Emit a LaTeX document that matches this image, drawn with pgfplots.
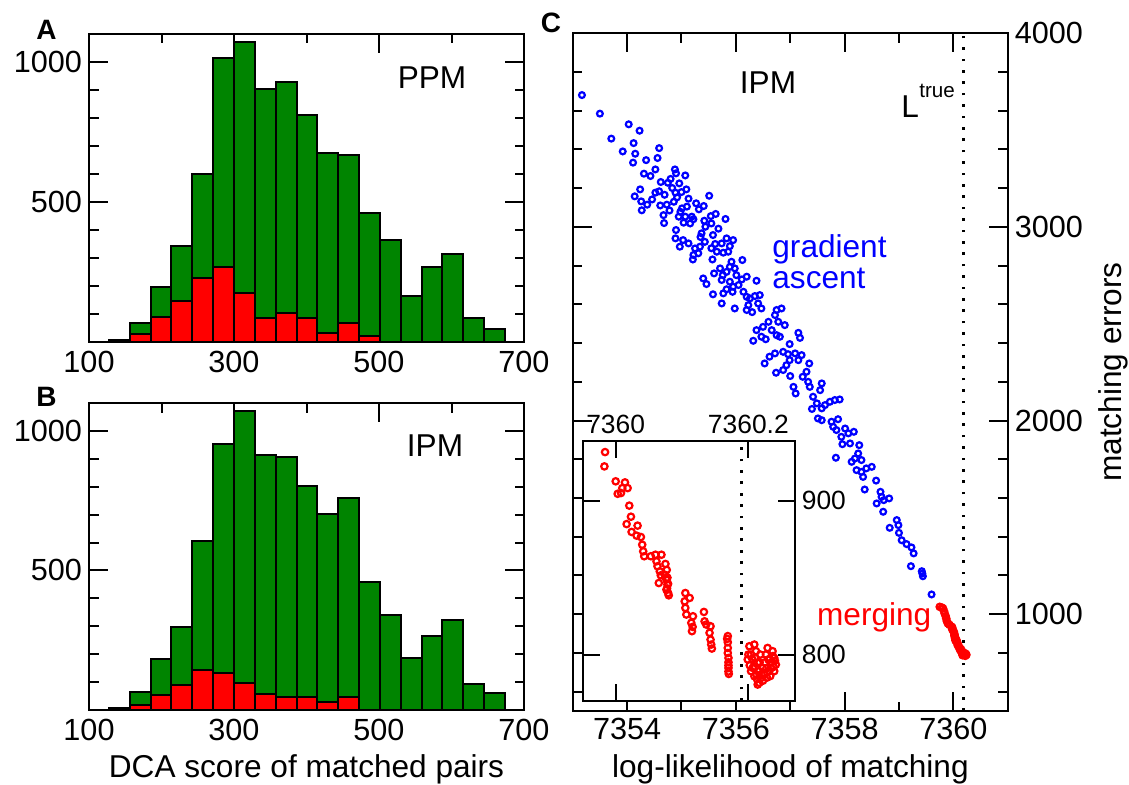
\documentclass[border=0pt]{standalone}
\usepackage{fontspec}
\setmainfont{Liberation Sans}
\usepackage{pgfplots}
\pgfplotsset{compat=1.18}

\definecolor{histgreen}{RGB}{0,132,0}
\tikzset{tk/.style={line width=1pt, black, line cap=butt}}

\pgfplotsset{
  frame/.style={
    scale only axis, anchor=south west, enlargelimits=false,
    axis line style={line width=1pt},
    tick style={draw=none},
    tick label style={font=\fontsize{15.3}{16}\selectfont},
    /pgf/number format/assume math mode=true,
    /pgf/number format/1000 sep={},
  },
  hist/.style={frame, width=217.5pt,
    xmin=100, xmax=700, ymin=0, ymax=1100,
    xtick={100,300,500,700}, ytick={500,1000},
    xticklabel style={yshift=3pt},
    ybar, bar width=28.75},
  allbar/.style={fill=histgreen, draw=black, line width=1pt, bar shift=0pt},
  errbar/.style={fill=red, draw=black, line width=1pt, bar shift=0pt},
  dots/.style={black, line width=1.35pt, dash pattern=on 1.35pt off 4.35pt},
  bluept/.style={only marks, mark=o, mark size=1.45pt, blue, mark options={line width=1.1pt}},
  redpt/.style={only marks, mark=o, mark size=1.6pt, red, mark options={line width=1.1pt}},
}

% frame ticks of a histogram panel: #1 = bottom, #2 = top of the box (pt),
% #3 = list of minor tick heights, #4 = list of major tick heights
\newcommand{\histticks}[4]{%
  \foreach \y in {#3} {\draw[tk] (44.5pt,\y pt) -- ++(4.75pt,0pt);
                       \draw[tk] (262pt,\y pt) -- ++(-4.75pt,0pt);}
  \foreach \y in {#4} {\draw[tk] (44.5pt,\y pt) -- ++(9.5pt,0pt);
                       \draw[tk] (262pt,\y pt) -- ++(-9.5pt,0pt);}
  \foreach \x in {80.75,153.25,225.75} {\draw[tk] (\x pt,#2 pt) -- ++(0pt,-4.75pt);}
  \foreach \x in {117,189.5} {\draw[tk] (\x pt,#2 pt) -- ++(0pt,-9.5pt);}
}

\begin{document}
\begin{tikzpicture}
\path[use as bounding box] (0,0) rectangle (564.5pt,392pt);

% ---- A: PPM histogram
\begin{axis}[hist, at={(44.5pt,221pt)}, height=154pt]
\addplot[allbar] coordinates {
 (141.875,8) (170.625,69) (199.375,195) (228.125,344) (256.875,600)
 (285.625,1016) (314.375,1070) (343.125,903) (371.875,927) (400.625,812)
 (429.375,675) (458.125,669) (486.875,460) (515.625,366) (544.375,164)
 (573.125,269) (601.875,314) (630.625,85) (659.375,45)};
\addplot[errbar] coordinates {
 (170.625,30) (199.375,91) (228.125,146) (256.875,227) (285.625,268)
 (314.375,174) (343.125,87) (371.875,103) (400.625,87) (429.375,31)
 (458.125,69) (486.875,22)};
\end{axis}
\histticks{221}{375}{235,249,263,277,305,319,333,347}{291,361}

% ---- B: IPM histogram
\begin{axis}[hist, at={(44.5pt,37pt)}, height=153.5pt]
\addplot[allbar] coordinates {
 (141.875,8) (170.625,66) (199.375,181) (228.125,296) (256.875,605)
 (285.625,952) (314.375,1070) (343.125,915) (371.875,908) (400.625,802)
 (429.375,702) (458.125,758) (486.875,459) (515.625,342) (544.375,187)
 (573.125,266) (601.875,322) (630.625,93) (659.375,60)};
\addplot[errbar] coordinates {
 (170.625,18) (199.375,54) (228.125,89) (256.875,143) (285.625,131)
 (314.375,98) (343.125,56) (371.875,45) (400.625,45) (429.375,29)
 (458.125,45)};
\end{axis}
\histticks{37}{190.5}{50.95,64.91,78.86,92.82,120.73,134.68,148.64,162.59}{106.77,176.55}

% ---- C: matching errors vs log-likelihood
\begin{axis}[frame, at={(286.35pt,36.5pt)}, width=217.5pt, height=338.85pt,
  xmin=7353, xmax=7361, ymin=500, ymax=4000,
  xtick={7354,7356,7358,7360}, ytick={1000,2000,3000,4000},
  yticklabel pos=right]
\addplot[bluept] coordinates {
 (7353.17,3681) (7353.50,3585) (7354.03,3530) (7354.23,3497) (7353.71,3456)
 (7354.12,3433) (7353.92,3390) (7354.15,3378) (7354.59,3407) (7354.11,3332)
 (7354.35,3345) (7354.56,3356) (7354.52,3297) (7354.31,3275) (7354.43,3263)
 (7354.88,3297) (7354.90,3277) (7355.07,3266) (7354.62,3232) (7354.75,3228)
 (7354.96,3225) (7354.24,3194) (7354.83,3201) (7355.09,3194) (7354.14,3158)
 (7354.52,3177) (7354.59,3184) (7354.69,3166) (7354.89,3177) (7354.92,3153)
 (7354.46,3142) (7354.26,3132) (7354.37,3115) (7354.61,3111) (7354.73,3115)
 (7354.86,3130) (7355.13,3146) (7355.51,3161) (7354.27,3086) (7354.67,3061)
 (7354.68,3020) (7355.01,3096) (7354.98,3078) (7355.27,3122) (7355.41,3108)
 (7355.32,3091) (7354.95,3053) (7355.07,3053) (7355.19,3053) (7355.63,3067)
 (7355.54,3056) (7355.81,3041) (7355.04,3022) (7355.16,3018) (7355.42,3032)
 (7355.55,3018) (7355.68,2991) (7355.44,3001) (7355.37,2967) (7355.58,2958)
 (7355.83,2941) (7355.95,2932) (7355.03,2932) (7355.13,2915) (7355.43,2923)
 (7355.62,2912) (7355.74,2915) (7355.89,2901) (7354.97,2898) (7355.25,2889)
 (7355.34,2898) (7355.65,2872) (7355.77,2867) (7355.86,2872) (7355.22,2855)
 (7355.31,2864) (7355.21,2832) (7355.57,2832) (7356.12,2829) (7355.92,2820)
 (7355.89,2794) (7355.98,2786) (7355.71,2786) (7355.83,2768) (7356.01,2751)
 (7355.76,2751) (7356.20,2743) (7356.11,2729) (7355.40,2734) (7355.46,2705)
 (7355.89,2717) (7355.74,2726) (7356.38,2722) (7355.95,2691) (7355.83,2678)
 (7355.77,2657) (7355.58,2652) (7355.94,2665) (7356.14,2665) (7356.20,2639)
 (7356.26,2631) (7356.35,2643) (7356.44,2648) (7356.41,2605) (7356.47,2579)
 (7356.23,2596) (7355.74,2605) (7355.98,2579) (7356.20,2571) (7356.75,2571)
 (7356.84,2579) (7356.72,2545) (7356.60,2510) (7356.78,2510) (7356.90,2493)
 (7356.50,2484) (7356.38,2467) (7356.66,2467) (7356.75,2441) (7356.81,2433)
 (7357.15,2453) (7357.18,2427) (7356.47,2433) (7356.32,2412) (7356.99,2395)
 (7356.72,2347) (7356.87,2355) (7356.96,2343) (7357.09,2347) (7357.21,2338)
 (7354.90,2984) (7354.89,2941) (7356.53,2295) (7356.74,2247) (7356.87,2261)
 (7356.93,2286) (7356.99,2312) (7357.15,2312) (7357.35,2295) (7357.30,2252)
 (7357.23,2226) (7357.33,2200) (7357.36,2174) (7357.06,2174) (7357.10,2140)
 (7357.42,2123) (7357.55,2157) (7357.58,2192) (7357.49,2089) (7357.58,2063)
 (7357.64,2080) (7357.73,2097) (7357.82,2106) (7357.91,2109) (7357.51,2011)
 (7357.58,2002) (7357.76,1994) (7357.88,2007) (7357.79,1968) (7357.85,1951)
 (7357.94,1916) (7358.01,1959) (7358.07,1934) (7358.10,1882) (7357.96,1878)
 (7358.17,1942) (7358.27,1873) (7357.84,1808) (7358.13,1787) (7358.19,1804)
 (7358.31,1796) (7358.22,1744) (7358.31,1735) (7358.34,1709) (7358.40,1753)
 (7358.50,1761) (7358.37,1644) (7358.66,1632) (7358.68,1606) (7358.72,1589)
 (7358.82,1598) (7358.59,1572) (7358.71,1529) (7358.96,1486) (7358.99,1460)
 (7358.83,1446) (7359.05,1382) (7359.14,1362) (7359.23,1345) (7359.27,1314)
 (7359.22,1248) (7359.43,1210) (7359.44,1196) (7359.60,1102)
 (7354.80,3248) (7355.00,3180) (7355.10,3105) (7354.78,3085) (7355.22,3040)
 (7355.35,2948) (7355.55,2890) (7355.60,2760) (7356.05,2700) (7356.30,2560)
 (7356.55,2420) (7356.62,2330) (7357.00,2230) (7357.40,2060) (7358.25,1830)
 (7358.58,1690) (7359.00,1420) (7359.42,1222)};
\addplot[redpt] coordinates {
 (7359.75,1038) (7359.79,1034) (7359.81,1030) (7359.83,1015) (7359.84,1004)
 (7359.86,990) (7359.87,978) (7359.88,965) (7359.90,952) (7359.93,945)
 (7359.97,935) (7359.98,931) (7359.98,922) (7360.00,913) (7360.01,908)
 (7360.02,897) (7360.02,890) (7360.03,884) (7360.03,877) (7360.04,871)
 (7360.04,864) (7360.06,865) (7360.07,855) (7360.08,846) (7360.08,840)
 (7360.10,835) (7360.11,826) (7360.12,818) (7360.14,820) (7360.14,810)
 (7360.15,804) (7360.17,805) (7360.17,795) (7360.17,788) (7360.20,800)
 (7360.21,792) (7360.22,785) (7360.23,795) (7360.24,790)};
\addplot[dots] coordinates {(7360.19,500) (7360.19,4000)};
\end{axis}
% frame ticks of panel C
\foreach \y in {46.18,65.54,104.27,123.63,143.0,162.36,201.08,220.45,239.81,259.17,297.9,317.26,336.62,355.99}
  {\draw[tk] (286.35pt,\y pt) -- ++(4.75pt,0pt); \draw[tk] (503.85pt,\y pt) -- ++(-4.75pt,0pt);}
\foreach \y in {84.91,181.72,278.54}
  {\draw[tk] (286.35pt,\y pt) -- ++(9.5pt,0pt); \draw[tk] (503.85pt,\y pt) -- ++(-9.5pt,0pt);}
\foreach \x in {340.73,395.1,449.48}
  {\draw[tk] (\x pt,36.5pt) -- ++(0pt,4.75pt); \draw[tk] (\x pt,375.35pt) -- ++(0pt,-4.75pt);}
\foreach \x in {313.54,367.91,422.29,476.66}
  {\draw[tk] (\x pt,36.5pt) -- ++(0pt,9.5pt); \draw[tk] (\x pt,375.35pt) -- ++(0pt,-9.5pt);}

% ---- inset: merging stage (x given relative to 7360)
\begin{axis}[frame, at={(291.25pt,41.65pt)}, width=106.15pt, height=130pt,
  axis background/.style={fill=white},
  xmin=-0.05, xmax=0.27, ymin=770, ymax=939,
  xtick={0,0.2}, xticklabels={7360,7360.2}, ytick={800,900},
  tick label style={font=\fontsize{13.2}{14}\selectfont},
  xticklabel pos=right, yticklabel pos=right]
\addplot[redpt] coordinates {
 (-0.016,931.6) (-0.017,922.3) (0.000,912.6) (0.014,911.9) (0.018,908.2)
 (0.010,908.2) (0.003,904.5) (0.008,905.0) (0.0205,896.8) (0.023,889.6)
 (0.0165,884.8) (0.033,883.8) (0.024,879.7) (0.0315,877.3) (0.038,876.4)
 (0.040,871.4) (0.0415,867.1) (0.043,863.9) (0.053,863.9) (0.060,864.9)
 (0.069,864.9) (0.0615,860.6) (0.063,857.4) (0.075,858.9) (0.0665,854.1)
 (0.074,851.9) (0.068,851.5) (0.0765,848.7) (0.065,846.5) (0.078,845.5)
 (0.0765,842.2) (0.079,840.0) (0.077,855.0) (0.078,850.0) (0.079,846.0)
 (0.0775,843.0) (0.080,838.5) (0.105,840.0) (0.104,834.6) (0.1115,836.8)
 (0.105,830.3) (0.1065,826.0) (0.1165,824.9) (0.114,820.6) (0.115,815.2)
 (0.116,818.0) (0.133,827.7) (0.134,821.6) (0.1365,819.5) (0.143,818.4)
 (0.1415,814.1) (0.143,809.7) (0.145,803.9) (0.144,806.5) (0.168,810.2)
 (0.169,804.3) (0.170,797.8) (0.170,791.3) (0.1705,787.4) (0.169,812.0)
 (0.169,808.0) (0.169,801.0) (0.170,795.0) (0.170,793.0) (0.170,789.0)
 (0.2015,805.4) (0.204,800.0) (0.199,796.8) (0.2065,791.3) (0.209,806.5)
 (0.2115,802.2) (0.214,794.6) (0.2165,789.2) (0.2165,781.6) (0.219,784.8)
 (0.2215,791.3) (0.224,787.0) (0.2265,800.0) (0.229,804.3) (0.230,796.8)
 (0.2315,789.2) (0.234,791.3) (0.2365,802.2) (0.239,797.8) (0.2415,793.5)
 (0.239,789.2) (0.204,789.2) (0.209,785.9) (0.214,780.5) (0.200,800.0)
 (0.202,793.0) (0.206,797.0) (0.208,792.0) (0.210,798.0) (0.212,787.0)
 (0.213,784.0) (0.217,795.0) (0.218,800.0) (0.220,787.0) (0.222,783.0)
 (0.225,795.0) (0.227,791.0) (0.228,785.0) (0.232,797.0) (0.235,795.0)
 (0.237,799.0) (0.240,796.0) (0.238,792.0) (0.233,786.0)};
\addplot[dots] coordinates {(0.19,770) (0.19,939)};
\end{axis}
% frame ticks of the inset
\foreach \x in {307.84,374.18}
  {\draw[tk] (\x pt,41.65pt) -- ++(0pt,8.5pt); \draw[tk] (\x pt,171.65pt) -- ++(0pt,-8.5pt);}
\foreach \y in {64.73,141.65}
  {\draw[tk] (291.25pt,\y pt) -- ++(8.5pt,0pt); \draw[tk] (397.4pt,\y pt) -- ++(-8.5pt,0pt);}

% ---- texts
\begin{scope}[every node/.style={font=\fontsize{15.8}{17}\selectfont, inner sep=0pt}]
\node[anchor=base, font=\fontsize{14}{15}\selectfont\bfseries] at (23.25pt,372.35pt) {A};
\node[anchor=base, font=\fontsize{14}{15}\selectfont\bfseries] at (23.25pt,188.65pt) {B};
\node[anchor=base, font=\fontsize{14}{15}\selectfont\bfseries] at (275.5pt,375.5pt) {C};
\node[anchor=base] at (216pt,347.85pt) {PPM};
\node[anchor=base] at (217.5pt,164pt) {IPM};
\node[anchor=base] at (384pt,345pt) {IPM};
\node[anchor=base west] at (450.5pt,333.5pt) {L};
\node[anchor=base west, font=\fontsize{10.3}{11}\selectfont] at (459.5pt,343.5pt) {true};
\node[anchor=base west, text=blue] at (386pt,263.5pt) {gradient};
\node[anchor=base west, text=blue] at (386pt,248pt) {ascent};
\node[anchor=base west, text=red] at (408.35pt,79.5pt) {merging};
\node[rotate=90] at (556.5pt,206pt) {matching errors};
\node[anchor=base] at (153.25pt,3.5pt) {DCA score of matched pairs};
\node[anchor=base] at (395.2pt,3.5pt) {log-likelihood of matching};
\end{scope}
\end{tikzpicture}
\end{document}
